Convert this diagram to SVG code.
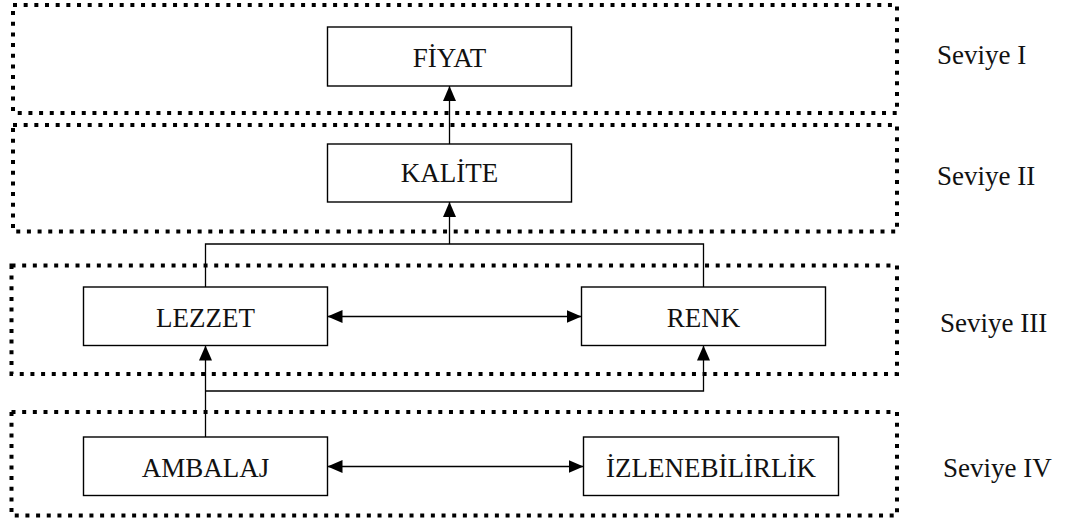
<svg xmlns="http://www.w3.org/2000/svg" width="1066" height="524" viewBox="0 0 1066 524">
  <style>
    .lvl { fill: none; stroke: #000; stroke-width: 4; stroke-dasharray: 4 6.67; }
    .box { fill: #fff; stroke: #000; stroke-width: 1.4; }
    .lbl { font-family: "Liberation Serif", "Times New Roman", serif; font-size: 27px; fill: #111; }
    .mid { text-anchor: middle; }
    .con { fill: none; stroke: #000; stroke-width: 1.3; }
  </style>
  <defs>
    <marker id="ah" viewBox="0 0 15 13" refX="15" refY="6.5" markerWidth="15" markerHeight="13" markerUnits="userSpaceOnUse" orient="auto-start-reverse">
      <path d="M0,0 L15,6.5 L0,13 Z" fill="#000"/>
    </marker>
  </defs>
  <rect width="1066" height="524" fill="#fff"/>

  <g id="levels">
    <rect id="level1" class="lvl" x="13" y="5" width="884" height="108"/>
    <rect id="level2" class="lvl" x="13" y="125" width="884" height="106.5"/>
    <rect id="level3" class="lvl" x="11.5" y="265.5" width="885.5" height="108.5"/>
    <rect id="level4" class="lvl" x="11.5" y="412" width="885.5" height="103.5"/>
    <text class="lbl" x="937" y="64">Seviye I</text>
    <text class="lbl" x="937" y="185">Seviye II</text>
    <text class="lbl" x="940" y="332">Seviye III</text>
    <text class="lbl" x="943" y="477">Seviye IV</text>
  </g>

  <g id="connectors">
    <line class="con" x1="449.5" y1="144" x2="449.5" y2="86" marker-end="url(#ah)"/>
    <path class="con" d="M205.5,287 V244 H703.5 V287"/>
    <line class="con" x1="449.5" y1="244" x2="449.5" y2="202" marker-end="url(#ah)"/>
    <line class="con" x1="327.5" y1="316.5" x2="581.5" y2="316.5" marker-start="url(#ah)" marker-end="url(#ah)"/>
    <line class="con" x1="205.5" y1="437" x2="205.5" y2="345.5" marker-end="url(#ah)"/>
    <path class="con" d="M205.5,391 H703.5 V345.5" marker-end="url(#ah)"/>
    <line class="con" x1="327.5" y1="466.5" x2="583.5" y2="466.5" marker-start="url(#ah)" marker-end="url(#ah)"/>
  </g>

  <g id="fiyat">
    <rect class="box" x="327.5" y="27" width="244" height="59"/>
    <text class="lbl mid" x="449.5" y="66.5">FİYAT</text>
  </g>
  <g id="kalite">
    <rect class="box" x="327.5" y="144" width="244" height="58"/>
    <text class="lbl mid" x="449.5" y="182">KALİTE</text>
  </g>
  <g id="lezzet">
    <rect class="box" x="83.5" y="287" width="244" height="58.5"/>
    <text class="lbl mid" x="205.5" y="326.5">LEZZET</text>
  </g>
  <g id="renk">
    <rect class="box" x="581.5" y="287" width="244" height="58.5"/>
    <text class="lbl mid" x="703.5" y="326.5">RENK</text>
  </g>
  <g id="ambalaj">
    <rect class="box" x="83.5" y="437" width="244" height="58.5"/>
    <text class="lbl mid" x="205.5" y="476.5">AMBALAJ</text>
  </g>
  <g id="izlenebilirlik">
    <rect class="box" x="583.5" y="437" width="255" height="58.5"/>
    <text class="lbl mid" x="711" y="476.5">İZLENEBİLİRLİK</text>
  </g>
</svg>
